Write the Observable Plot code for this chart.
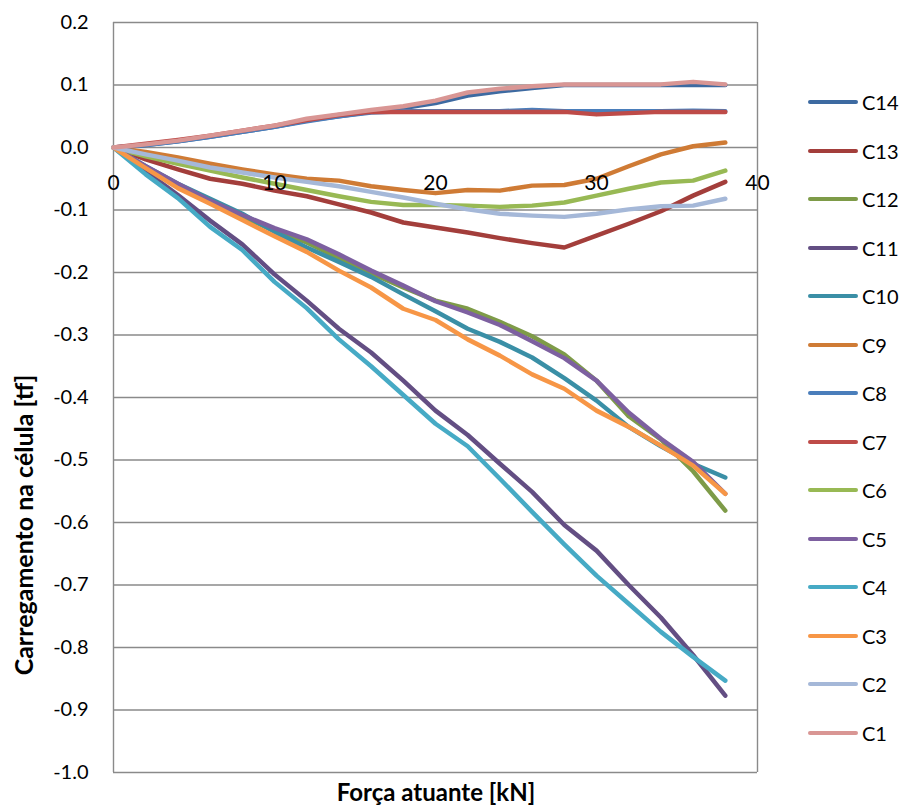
<!DOCTYPE html>
<html>
<head>
<meta charset="utf-8">
<script src="https://cdn.jsdelivr.net/npm/d3@7"></script>
<script src="https://cdn.jsdelivr.net/npm/@observablehq/plot@0.6"></script>
<style>
  html, body { margin: 0; padding: 0; background: #fff; }
  #wrap { position: relative; width: 912px; height: 807px; font-family: Lato, "Open Sans", sans-serif; overflow: hidden; }
  #ytitle { position: absolute; left: 23px; top: 525px; transform: translate(-50%, -50%) rotate(-90deg); white-space: nowrap; font-weight: bold; font-size: 25px; line-height: 1; color: #000; }
  #xtitle { position: absolute; left: 436px; top: 792px; transform: translate(-50%, -50%); white-space: nowrap; font-weight: bold; font-size: 24px; line-height: 1; color: #000; }
  #legend { position: absolute; left: 808px; top: 0; }
  .item { position: absolute; left: 0; display: flex; align-items: center; transform: translateY(-50%); white-space: nowrap; }
  .swatch { width: 50px; height: 4px; border-radius: 2px; margin-right: 4px; }
  .lab { font-size: 20px; color: #000; }
</style>
</head>
<body>
<div id="wrap"></div>
<script>
// x values (Força atuante, kN)
const xs = [0, 2, 4, 6, 8, 10, 12, 14, 16, 18, 20, 22, 24, 26, 28, 30, 32, 34, 36, 38];

// series values (Carregamento na célula, tf)
const C14 = [0, 0.004, 0.010, 0.017, 0.025, 0.033, 0.043, 0.050, 0.057, 0.063, 0.071, 0.083, 0.090, 0.095, 0.100, 0.100, 0.100, 0.100, 0.100, 0.100];
const C13 = [0, -0.019, -0.035, -0.050, -0.058, -0.069, -0.078, -0.091, -0.104, -0.120, -0.128, -0.136, -0.145, -0.153, -0.160, -0.141, -0.122, -0.102, -0.077, -0.055];
const C12 = [0, -0.031, -0.060, -0.088, -0.111, -0.133, -0.152, -0.177, -0.201, -0.224, -0.245, -0.258, -0.279, -0.302, -0.331, -0.373, -0.430, -0.467, -0.518, -0.581];
const C11 = [0, -0.038, -0.076, -0.117, -0.155, -0.203, -0.245, -0.290, -0.328, -0.373, -0.421, -0.460, -0.506, -0.551, -0.604, -0.645, -0.700, -0.752, -0.812, -0.877];
const C10 = [0, -0.030, -0.058, -0.082, -0.106, -0.135, -0.160, -0.183, -0.207, -0.235, -0.262, -0.290, -0.311, -0.336, -0.369, -0.405, -0.447, -0.478, -0.506, -0.528];
const C9  = [0, -0.007, -0.016, -0.026, -0.035, -0.043, -0.050, -0.053, -0.062, -0.068, -0.073, -0.068, -0.069, -0.061, -0.060, -0.050, -0.030, -0.011, 0.002, 0.008];
const C8  = [0, 0.004, 0.010, 0.017, 0.025, 0.033, 0.042, 0.050, 0.056, 0.058, 0.058, 0.058, 0.058, 0.060, 0.058, 0.058, 0.058, 0.058, 0.059, 0.058];
const C7  = [0, 0.006, 0.012, 0.019, 0.027, 0.035, 0.044, 0.052, 0.057, 0.057, 0.057, 0.057, 0.057, 0.057, 0.057, 0.053, 0.055, 0.057, 0.057, 0.057];
const C6  = [0, -0.014, -0.026, -0.037, -0.048, -0.058, -0.068, -0.078, -0.087, -0.092, -0.092, -0.093, -0.095, -0.093, -0.088, -0.077, -0.066, -0.056, -0.053, -0.037];
const C5  = [0, -0.030, -0.058, -0.085, -0.108, -0.129, -0.147, -0.171, -0.197, -0.221, -0.246, -0.264, -0.284, -0.310, -0.337, -0.373, -0.424, -0.466, -0.503, -0.554];
const C4  = [0, -0.043, -0.081, -0.127, -0.164, -0.215, -0.257, -0.307, -0.350, -0.396, -0.442, -0.478, -0.530, -0.583, -0.635, -0.685, -0.730, -0.775, -0.815, -0.853];
const C3  = [0, -0.033, -0.065, -0.090, -0.116, -0.142, -0.167, -0.197, -0.224, -0.258, -0.276, -0.307, -0.333, -0.363, -0.386, -0.421, -0.447, -0.477, -0.509, -0.554];
const C2  = [0, -0.011, -0.021, -0.032, -0.040, -0.048, -0.055, -0.062, -0.071, -0.080, -0.090, -0.099, -0.106, -0.109, -0.111, -0.106, -0.099, -0.094, -0.093, -0.082];
const C1  = [0, 0.005, 0.011, 0.019, 0.027, 0.035, 0.046, 0.053, 0.060, 0.066, 0.075, 0.088, 0.094, 0.098, 0.101, 0.101, 0.101, 0.101, 0.105, 0.101];

const names  = ["C14", "C13", "C12", "C11", "C10", "C9", "C8", "C7", "C6", "C5", "C4", "C3", "C2", "C1"];
const values = [C14, C13, C12, C11, C10, C9, C8, C7, C6, C5, C4, C3, C2, C1];
const colors = ["#3D6AA1", "#A33E3B", "#7E9B48", "#634E83", "#3A8FA6", "#CF7B35", "#4A7EBB", "#BE4B48", "#98B954", "#7D60A0", "#46AAC5", "#F79646", "#A5B8D8", "#D99694"];

// axis ticks
const xTicks = [0, 10, 20, 30, 40];
const yTicks = [0.2, 0.1, 0.0, -0.1, -0.2, -0.3, -0.4, -0.5, -0.6, -0.7, -0.8, -0.9, -1.0];

const data = names.flatMap((name, i) => xs.map((x, j) => ({name, x, y: values[i][j]})));

const grid = "#8a8a8a";

const chart = Plot.plot({
  width: 912,
  height: 807,
  marginLeft: 113,
  marginRight: 155,
  marginTop: 22,
  marginBottom: 35,
  style: {fontFamily: "Lato, 'Open Sans', sans-serif", color: "#000", background: "#fff"},
  x: {domain: [0, 40], axis: null},
  y: {domain: [-1, 0.2], axis: null},
  color: {domain: names, range: colors},
  marks: [
    Plot.ruleY(yTicks, {stroke: grid, strokeWidth: 1.4}),
    Plot.ruleX([0, 40], {stroke: grid, strokeWidth: 1.4}),
    Plot.axisY(yTicks, {tickSize: 0, tickPadding: 25, tickFormat: d => d.toFixed(1), fontSize: 20, label: null}),
    Plot.line(data, {x: "x", y: "y", z: "name", stroke: "name", strokeWidth: 4.5, strokeLinejoin: "round", strokeLinecap: "round"}),
    Plot.text(xTicks, {x: d => d, y: () => 0, dy: 36, text: d => String(d), fontSize: 21, fill: "#000"})
  ]
});

const wrap = document.getElementById("wrap");
wrap.appendChild(chart);

const yt = document.createElement("div");
yt.id = "ytitle"; yt.textContent = "Carregamento na célula [tf]";
wrap.appendChild(yt);
const xt = document.createElement("div");
xt.id = "xtitle"; xt.textContent = "Força atuante [kN]";
wrap.appendChild(xt);

const legend = document.createElement("div");
legend.id = "legend";
names.forEach((n, i) => {
  const it = document.createElement("div");
  it.className = "item";
  it.style.top = (102 + i * 48.5) + "px";
  const sw = document.createElement("span");
  sw.className = "swatch"; sw.style.background = colors[i];
  const lb = document.createElement("span");
  lb.className = "lab"; lb.textContent = n;
  it.appendChild(sw); it.appendChild(lb);
  legend.appendChild(it);
});
wrap.appendChild(legend);
</script>
</body>
</html>
